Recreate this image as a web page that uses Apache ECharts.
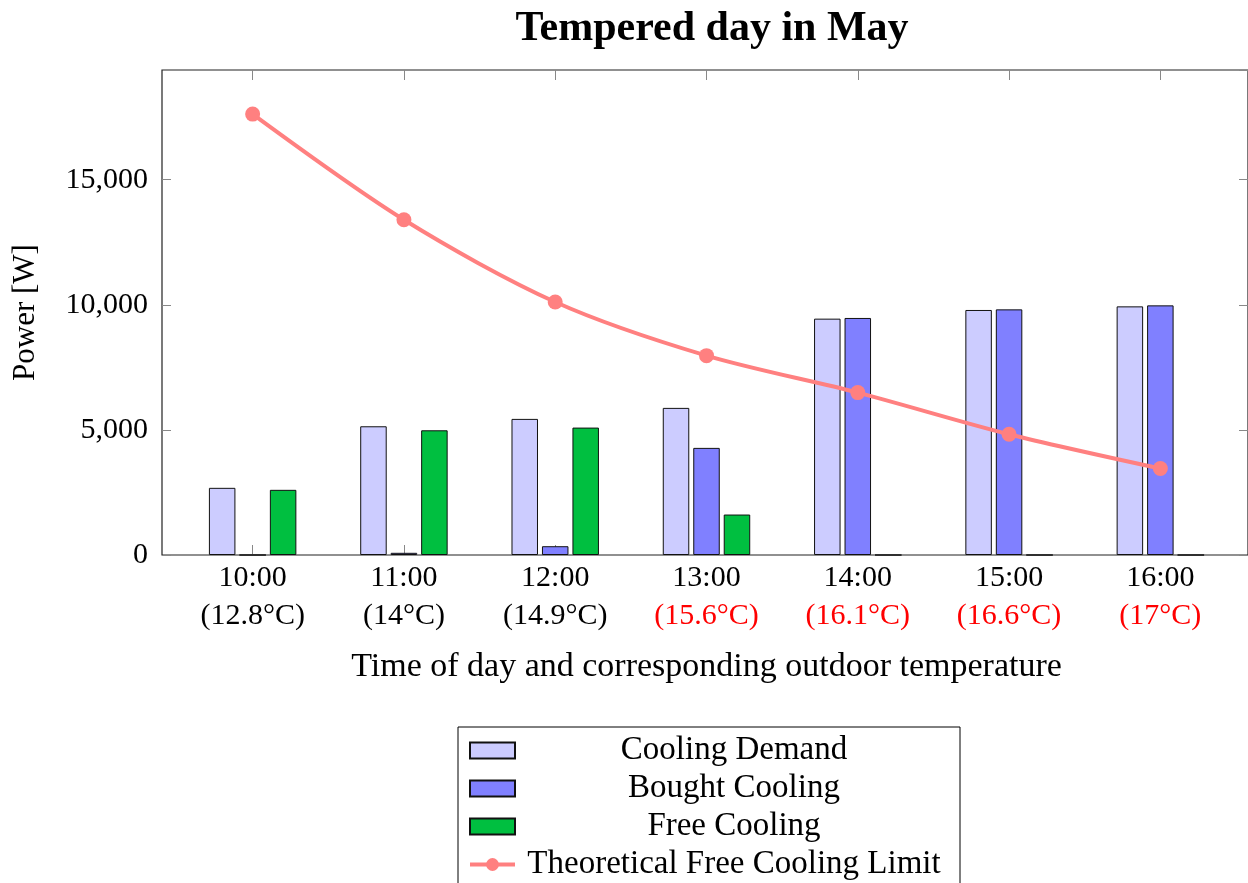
<!DOCTYPE html>
<html>
<head>
<meta charset="utf-8">
<title>Tempered day in May</title>
<script src="https://cdn.jsdelivr.net/npm/echarts@6/dist/echarts.min.js"></script>
<style>
  html, body { margin: 0; padding: 0; background: #fff; }
  #chart { width: 1248px; height: 883px; }
</style>
</head>
<body>
<div id="chart"></div>
<script>
// Hourly readings
const times = ['10:00', '11:00', '12:00', '13:00', '14:00', '15:00', '16:00'];
const temps = ['12.8°C', '14°C', '14.9°C', '15.6°C', '16.1°C', '16.6°C', '17°C'];

// Power values [W]
const coolingDemand = [2684, 5144, 5439, 5879, 9445, 9792, 9936];
const boughtCooling = [0, 88, 351, 4281, 9473, 9816, 9976];
const freeCooling = [2604, 4984, 5092, 1617, 0, 0, 0];
const freeCoolingLimit = [17620, 13398, 10112, 7967, 6490, 4825, 3454];

// Y axis ticks
const yTicks = [0, 5000, 10000, 15000];

const FONT = '"Liberation Serif", "DejaVu Serif", serif';
const yMax = Math.max(...freeCoolingLimit, ...coolingDemand, ...boughtCooling) * 1.1;

// Hours where bought cooling exceeds free cooling get a red temperature
const warmHour = times.map((t, i) => boughtCooling[i] > freeCooling[i]);

const chart = echarts.init(document.getElementById('chart'), null, { renderer: 'canvas' });

const tickStyle = { color: '#888', width: 1 };

const option = {
  animation: false,
  backgroundColor: '#ffffff',
  title: {
    text: 'Tempered day in May',
    left: 707,
    top: 3,
    textAlign: 'center',
    textStyle: { fontFamily: FONT, fontWeight: 'bold', fontSize: 42, color: '#000' }
  },
  legend: {
    orient: 'vertical',
    left: 458,
    top: 727,
    height: 170,
    padding: [7, 12, 12, 10],
    itemWidth: 45,
    itemHeight: 16,
    itemGap: 5,
    borderColor: '#000',
    borderWidth: 1,
    data: [
      { name: 'Cooling Demand', icon: 'rect' },
      { name: 'Bought Cooling', icon: 'rect' },
      { name: 'Free Cooling', icon: 'rect' },
      { name: 'Theoretical Free Cooling Limit', lineStyle: { width: 4 } }
    ],
    formatter: name => '{a|' + name + '}',
    textStyle: {
      fontFamily: FONT,
      fontSize: 33,
      color: '#000',
      rich: { a: { width: 428, align: 'center', fontFamily: FONT, fontSize: 33, lineHeight: 30, color: '#000' } }
    }
  },
  grid: [
    // frame
    { left: 162, top: 70, width: 1088, height: 485, show: true, borderColor: '#222', borderWidth: 1.2, backgroundColor: 'transparent' },
    // data area
    { left: 177, top: 70, width: 1059, height: 485 }
  ],
  xAxis: [
    { gridIndex: 0, type: 'value', show: false, min: 0, max: 1 },
    {
      gridIndex: 1,
      type: 'category',
      data: times,
      position: 'bottom',
      axisLine: { show: false },
      axisTick: { show: true, inside: true, alignWithLabel: true, interval: 0, length: 10, lineStyle: tickStyle },
      axisLabel: {
        interval: 0,
        margin: 4,
        fontFamily: FONT,
        fontSize: 30,
        color: '#000',
        formatter: (v, i) => '{t|' + v + '}\n{' + (warmHour[i] ? 'r' : 'c') + '|(' + temps[i] + ')}',
        rich: {
          t: { fontFamily: FONT, fontSize: 30, lineHeight: 38, color: '#000' },
          c: { fontFamily: FONT, fontSize: 30, lineHeight: 38, color: '#000' },
          r: { fontFamily: FONT, fontSize: 30, lineHeight: 38, color: '#ff0000' }
        }
      },
      name: 'Time of day and corresponding outdoor temperature',
      nameLocation: 'middle',
      nameGap: 96,
      nameTextStyle: { fontFamily: FONT, fontSize: 34, lineHeight: 32, color: '#000' }
    },
    {
      gridIndex: 1,
      type: 'category',
      data: times,
      position: 'top',
      axisLine: { show: false },
      axisTick: { show: true, inside: true, alignWithLabel: true, interval: 0, length: 10, lineStyle: tickStyle },
      axisLabel: { show: false }
    }
  ],
  yAxis: [
    {
      gridIndex: 0,
      type: 'value',
      position: 'left',
      min: 0,
      max: yMax,
      interval: 5000,
      splitLine: { show: false },
      axisLine: { show: false },
      axisTick: { show: true, inside: true, length: 9, lineStyle: tickStyle },
      axisLabel: {
        margin: 14,
        showMaxLabel: false,
        fontFamily: FONT,
        fontSize: 30,
        color: '#000',
        formatter: v => yTicks.includes(v) ? v.toLocaleString('en-US') : ''
      },
      name: 'Power [W]',
      nameLocation: 'middle',
      nameGap: 121,
      nameRotate: 90,
      nameTextStyle: { fontFamily: FONT, fontSize: 31, lineHeight: 31, color: '#000' }
    },
    {
      gridIndex: 0,
      type: 'value',
      position: 'right',
      min: 0,
      max: yMax,
      interval: 5000,
      splitLine: { show: false },
      axisLine: { show: false },
      axisTick: { show: true, inside: true, length: 9, lineStyle: tickStyle },
      axisLabel: { show: false }
    },
    {
      gridIndex: 1,
      type: 'value',
      min: 0,
      max: yMax,
      show: false
    }
  ],
  series: [
    {
      name: 'Cooling Demand',
      type: 'bar',
      xAxisIndex: 1,
      yAxisIndex: 2,
      data: coolingDemand,
      barWidth: 26.5,
      barGap: '15%',
      itemStyle: { color: '#ccccff', borderColor: '#111', borderWidth: 1 }
    },
    {
      name: 'Bought Cooling',
      type: 'bar',
      xAxisIndex: 1,
      yAxisIndex: 2,
      data: boughtCooling,
      barWidth: 26.5,
      barGap: '15%',
      itemStyle: { color: '#8080ff', borderColor: '#111', borderWidth: 1 }
    },
    {
      name: 'Free Cooling',
      type: 'bar',
      xAxisIndex: 1,
      yAxisIndex: 2,
      data: freeCooling,
      barWidth: 26.5,
      barGap: '15%',
      itemStyle: { color: '#00bf40', borderColor: '#111', borderWidth: 1 }
    },
    {
      name: 'Theoretical Free Cooling Limit',
      type: 'line',
      xAxisIndex: 1,
      yAxisIndex: 2,
      data: freeCoolingLimit,
      smooth: 0.3,
      symbol: 'circle',
      symbolSize: 15,
      z: 5,
      lineStyle: { color: '#ff8080', width: 4 },
      itemStyle: { color: '#ff8080' }
    }
  ]
};

chart.setOption(option);
</script>
</body>
</html>
